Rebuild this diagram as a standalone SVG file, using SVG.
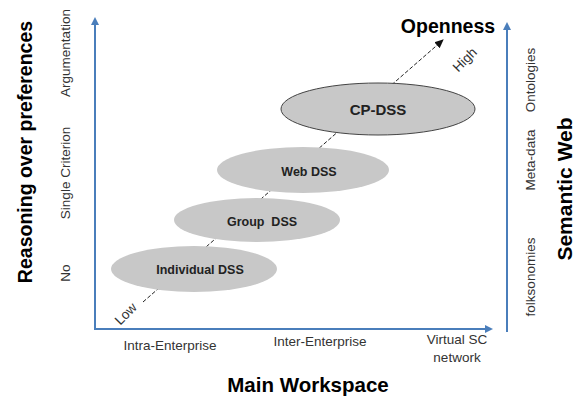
<svg xmlns="http://www.w3.org/2000/svg" width="585" height="399" viewBox="0 0 585 399">
<style>
.ax{stroke:#4a7ebb;stroke-width:2;fill:none}
.ell{fill:#c8c8c8}
.lbl{font-family:"Liberation Sans",Arial,sans-serif;font-size:13.5px;fill:#333}
.big{font-family:"Liberation Sans",Arial,sans-serif;font-size:19.5px;font-weight:bold;fill:#000}
.nd{font-family:"Liberation Sans",Arial,sans-serif;font-size:12.5px;font-weight:bold;fill:#222;text-anchor:middle}
</style>
<defs>
<marker id="ba" markerWidth="8" markerHeight="8" refX="6" refY="4" orient="auto" markerUnits="userSpaceOnUse"><path d="M0,0 L8,4 L0,8 z" fill="#4a7ebb"/></marker>
<marker id="da" markerWidth="10" markerHeight="10" refX="8" refY="5" orient="auto" markerUnits="userSpaceOnUse"><path d="M0,1 L9,5 L0,9 z" fill="#111"/></marker>
</defs>
<g id="connectors">
<path class="ax" d="M95,329 V19" marker-end="url(#ba)"/>
<path class="ax" d="M94,329 H491" marker-end="url(#ba)"/>
<path class="ax" d="M507,332 V24" marker-end="url(#ba)"/>
<path d="M143,302 L443,40" stroke="#222" stroke-width="1" stroke-dasharray="4,2" fill="none" marker-end="url(#da)"/>
</g>
<g id="individual-dss"><ellipse class="ell" cx="194" cy="269" rx="83" ry="23"/><text class="nd" x="200" y="274">Individual DSS</text></g>
<g id="group-dss"><ellipse class="ell" cx="257" cy="220" rx="83" ry="22"/><text class="nd" x="262" y="226" xml:space="preserve">Group  DSS</text></g>
<g id="web-dss"><ellipse class="ell" cx="303" cy="170" rx="86" ry="23"/><text class="nd" x="309" y="176">Web DSS</text></g>
<g id="cp-dss"><ellipse class="ell" cx="378" cy="109" rx="97" ry="26" stroke="#444" stroke-width="1"/><text class="nd" x="378" y="115" style="font-size:15px">CP-DSS</text></g>
<g id="labels">
<text class="big" transform="translate(32,152) rotate(-90)" text-anchor="middle">Reasoning over preferences</text>
<text class="lbl" transform="translate(70,273) rotate(-90)" text-anchor="middle">No</text>
<text class="lbl" transform="translate(70,173) rotate(-90)" text-anchor="middle">Single Criterion</text>
<text class="lbl" transform="translate(70,53) rotate(-90)" text-anchor="middle">Argumentation</text>
<text class="big" x="448" y="33" text-anchor="middle">Openness</text>
<text class="lbl" transform="translate(468,63) rotate(-45)" text-anchor="middle">High</text>
<text class="lbl" transform="translate(129,317) rotate(-45)" text-anchor="middle">Low</text>
<text class="lbl" x="170" y="350" text-anchor="middle">Intra-Enterprise</text>
<text class="lbl" x="320" y="346" text-anchor="middle">Inter-Enterprise</text>
<text class="lbl" x="457" y="344" text-anchor="middle">Virtual SC</text>
<text class="lbl" x="457" y="362" text-anchor="middle">network</text>
<text class="big" x="308" y="392" text-anchor="middle" style="font-size:20.5px">Main Workspace</text>
<text class="lbl" transform="translate(535,80) rotate(-90)" text-anchor="middle">Ontologies</text>
<text class="lbl" transform="translate(535,160) rotate(-90)" text-anchor="middle">Meta-data</text>
<text class="lbl" transform="translate(535,277) rotate(-90)" text-anchor="middle">folksonomies</text>
<text class="big" transform="translate(572,189) rotate(-90)" text-anchor="middle" style="font-size:21px">Semantic Web</text>
</g>
</svg>
